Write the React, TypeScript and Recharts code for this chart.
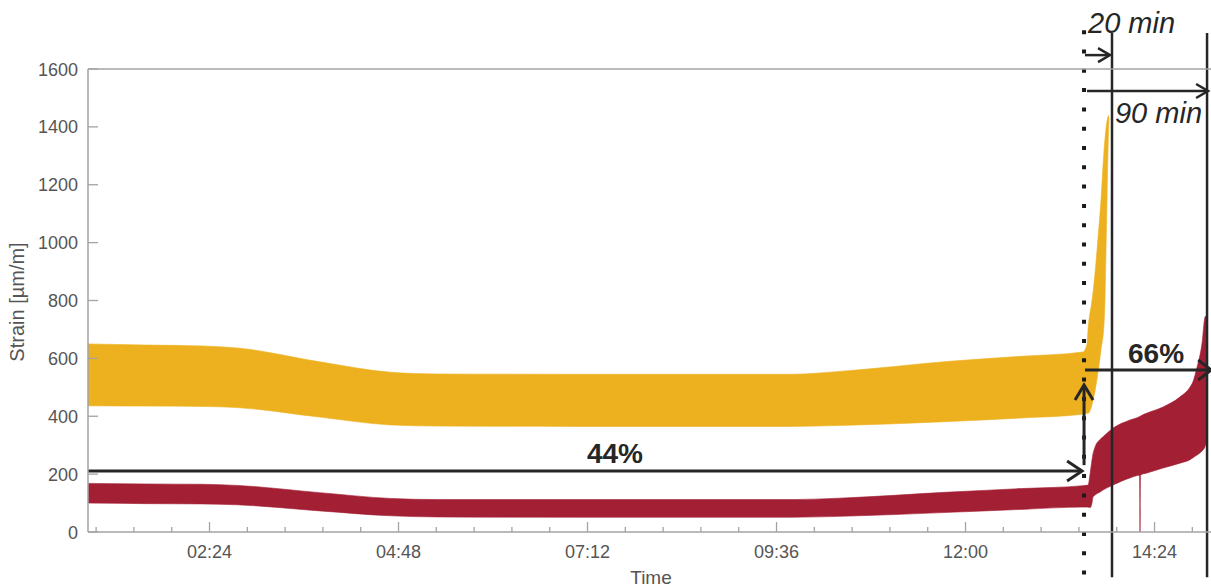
import React from 'react';
import {
  ComposedChart,
  Area,
  XAxis,
  YAxis,
  ReferenceLine,
  ReferenceDot,
} from 'recharts';

// ---- data (time in hours, strain in µm/m) ----
// Upper gauge: envelope (min / max) of the oscillating strain signal
const YELLOW_T = [
  0.857, 1.6, 2.3, 2.75, 3.8, 4.7, 5.3, 7.0, 9.8, 10.4, 11.8, 12.7, 13.49,
  13.543, 13.556, 13.606, 13.632, 13.67, 13.72, 13.759, 13.771, 13.784, 13.797,
  13.81, 13.822,
];
const YELLOW_LOW = [
  436, 435, 434, 430, 397, 370, 366, 365, 365, 368, 382, 394, 407,
  410, 410, 440, 470, 530, 629, 720, 800, 975, 1147, 1320, 1430,
];
const YELLOW_HIGH = [
  650, 646, 643, 636, 588, 552, 546, 545, 545, 555, 590, 607, 622,
  650, 700, 800, 860, 975, 1147, 1320, 1360, 1395, 1420, 1435, 1440,
];

// Lower gauge envelope
const RED_T = [
  0.857, 1.6, 2.3, 2.75, 3.8, 4.7, 5.3, 7.0, 9.8, 10.4, 11.8, 12.7, 13.49,
  13.556, 13.581, 13.606, 13.619, 13.645, 13.708, 13.746, 13.873, 14.089,
  14.21, 14.216, 14.222, 14.305, 14.508, 14.724, 14.851, 14.889, 14.94,
  15.003, 15.041, 15.067,
];
const RED_LOW = [
  100, 98, 97, 94, 73, 56, 52, 51, 51, 54, 68, 78, 86,
  86, 84, 100, 121, 128, 138, 145, 162, 187,
  196, 0, 197, 204, 221, 238, 250, 257, 266,
  280, 295, 318,
];
const RED_HIGH = [
  168, 166, 165, 161, 136, 116, 112, 112, 112, 117, 138, 150, 160,
  162, 200, 249, 270, 294, 320, 329, 359, 387,
  399, 400, 401, 411, 432, 467, 501, 520, 570,
  652, 743, 750,
];

// ---- axes ----
const X_MIN = 0.857;
const X_MAX = 15.206;
const X_MAJOR_TICKS = [2.4, 4.8, 7.2, 9.6, 12.0, 14.4];
const X_TICK_LABELS = ['02:24', '04:48', '07:12', '09:36', '12:00', '14:24'];
const X_MINOR_STEP = 0.48;
const X_TICKS: number[] = [];
for (let k = 2; k * X_MINOR_STEP <= X_MAX; k++) X_TICKS.push(+(k * X_MINOR_STEP).toFixed(2));
const Y_TICKS = [0, 200, 400, 600, 800, 1000, 1200, 1400, 1600];

// ---- annotation anchors (hours, µm/m) ----
const T_LOAD_CHANGE = 13.505;
const T_20MIN = 13.86;
const T_90MIN = 15.067;
const LEVEL_44 = 210.8;
const LEVEL_66 = 559.8;

const FONT = "'Liberation Sans', Arial, Helvetica, sans-serif";
const INK = '#262626';
const AXIS_GRAY = '#a3a3a3';
const TICK_TEXT = '#555555';
const YELLOW = '#EDB120';
const RED = '#A31F34';

const yellowData = YELLOW_T.map((t, i) => ({ t, band: [YELLOW_LOW[i], YELLOW_HIGH[i]] }));
const redData = RED_T.map((t, i) => ({ t, band: [RED_LOW[i], RED_HIGH[i]] }));

const majorIndex = (v: number) =>
  X_MAJOR_TICKS.findIndex((m) => Math.abs(m - v) < 1e-3);

function BottomTick(props: any) {
  const { x, y, payload } = props;
  const idx = majorIndex(payload.value);
  const len = idx >= 0 ? 10 : 5;
  return (
    <g>
      <line x1={x} y1={y} x2={x} y2={y - len} stroke={AXIS_GRAY} strokeWidth={1.3} />
      {idx >= 0 && (
        <text x={x} y={y + 26} textAnchor="middle" fontSize={18} fontFamily={FONT} fill={TICK_TEXT}>
          {X_TICK_LABELS[idx]}
        </text>
      )}
    </g>
  );
}

function TopTick(props: any) {
  const { x, y, payload } = props;
  const len = majorIndex(payload.value) >= 0 ? 10 : 5;
  return <line x1={x} y1={y} x2={x} y2={y + len} stroke={AXIS_GRAY} strokeWidth={1.3} />;
}

function LeftTick(props: any) {
  const { x, y, payload } = props;
  return (
    <g>
      <line x1={x} y1={y} x2={x + 10} y2={y} stroke={AXIS_GRAY} strokeWidth={1.3} />
      <text x={x - 10} y={y + 6.5} textAnchor="end" fontSize={18} fontFamily={FONT} fill={TICK_TEXT}>
        {payload.value}
      </text>
    </g>
  );
}

// line with an open chevron head at its end point
const arrowShape = (back: number, half: number, width: number) => (p: any) => {
  const { x1, y1, x2, y2 } = p;
  const dx = x2 - x1;
  const dy = y2 - y1;
  const L = Math.hypot(dx, dy) || 1;
  const ux = dx / L;
  const uy = dy / L;
  const px = -uy;
  const py = ux;
  const a = `${x2 - ux * back + px * half},${y2 - uy * back + py * half}`;
  const b = `${x2 - ux * back - px * half},${y2 - uy * back - py * half}`;
  return (
    <g>
      <line x1={x1} y1={y1} x2={x2 - ux * 1} y2={y2 - uy * 1} stroke={INK} strokeWidth={width} />
      <polyline points={`${a} ${x2},${y2} ${b}`} fill="none" stroke={INK} strokeWidth={width} strokeLinejoin="miter" />
    </g>
  );
};

const textShape = (text: string, size: number, opts: { bold?: boolean; italic?: boolean; anchor?: string }) =>
  (p: any) => (
    <text
      x={p.cx}
      y={p.cy}
      fontSize={size}
      fontFamily={FONT}
      fontWeight={opts.bold ? 'bold' : 'normal'}
      fontStyle={opts.italic ? 'italic' : 'normal'}
      textAnchor={opts.anchor || 'middle'}
      fill={INK}
    >
      {text}
    </text>
  );

const renderYLabel = () => (
  <text
    transform="translate(24,302) rotate(-90)"
    textAnchor="middle"
    fontSize={20}
    fontFamily={FONT}
    fill={TICK_TEXT}
  >
    Strain [µm/m]
  </text>
);

const renderXLabel = () => (
  <text x={651} y={584} textAnchor="middle" fontSize={19} fontFamily={FONT} fill={TICK_TEXT}>
    Time
  </text>
);

export default function App() {
  return (
    <div
      style={{
        position: 'absolute',
        left: 0,
        top: 0,
        width: 1211,
        height: 588,
        overflow: 'hidden',
        background: '#ffffff',
      }}
    >
      <ComposedChart width={1230} height={588} margin={{ top: 39, right: 12, bottom: 0, left: 0 }}>
        <XAxis
          xAxisId={0}
          type="number"
          dataKey="t"
          domain={[X_MIN, X_MAX]}
          allowDataOverflow
          ticks={X_TICKS}
          interval={0}
          tickSize={0}
          tickMargin={0}
          tickLine={false}
          tick={<BottomTick />}
          axisLine={{ stroke: AXIS_GRAY, strokeWidth: 1.5 }}
          height={56}
          label={{ value: 'Time', content: renderXLabel }}
        />
        <XAxis
          xAxisId="top"
          orientation="top"
          type="number"
          domain={[X_MIN, X_MAX]}
          allowDataOverflow
          ticks={X_TICKS}
          interval={0}
          tickSize={0}
          tickMargin={0}
          tickLine={false}
          tick={<TopTick />}
          axisLine={{ stroke: AXIS_GRAY, strokeWidth: 1.5 }}
          height={30}
        />
        <YAxis
          type="number"
          domain={[0, 1600]}
          allowDataOverflow
          ticks={Y_TICKS}
          interval={0}
          tickSize={0}
          tickMargin={0}
          tickLine={false}
          tick={<LeftTick />}
          axisLine={{ stroke: AXIS_GRAY, strokeWidth: 1.5 }}
          width={88}
          label={{ value: 'Strain [µm/m]', content: renderYLabel }}
        />

        <Area
          data={yellowData}
          dataKey="band"
          type="monotone"
          fill={YELLOW}
          fillOpacity={1}
          stroke={YELLOW}
          strokeWidth={0.6}
          dot={false}
          activeDot={false}
          isAnimationActive={false}
        />
        <Area
          data={redData}
          dataKey="band"
          type="monotone"
          fill={RED}
          fillOpacity={1}
          stroke={RED}
          strokeWidth={0.6}
          dot={false}
          activeDot={false}
          isAnimationActive={false}
        />

        {/* load change marker */}
        <ReferenceLine
          segment={[{ x: T_LOAD_CHANGE, y: 1734 }, { x: T_LOAD_CHANGE, y: -194 }]}
          stroke="#1a1a1a"
          strokeWidth={4}
          strokeDasharray="4 15.3"
          ifOverflow="visible"
        />
        {/* 20 min and 90 min boundaries */}
        <ReferenceLine
          segment={[{ x: T_20MIN, y: 1724 }, { x: T_20MIN, y: -156 }]}
          stroke={INK}
          strokeWidth={2.5}
          ifOverflow="visible"
        />
        <ReferenceLine
          segment={[{ x: T_90MIN, y: 1724 }, { x: T_90MIN, y: -156 }]}
          stroke={INK}
          strokeWidth={2.5}
          ifOverflow="visible"
        />
        <ReferenceLine
          segment={[{ x: 13.517, y: 1648 }, { x: 13.835, y: 1648 }]}
          ifOverflow="visible"
          shape={arrowShape(12, 7, 2.5)}
        />
        <ReferenceLine
          segment={[{ x: 13.543, y: 1524 }, { x: 15.08, y: 1524 }]}
          ifOverflow="visible"
          shape={arrowShape(12, 7, 2.5)}
        />

        {/* 44 % level */}
        <ReferenceLine
          segment={[{ x: X_MIN, y: LEVEL_44 }, { x: 13.48, y: LEVEL_44 }]}
          ifOverflow="visible"
          shape={arrowShape(15, 10, 3)}
        />
        <ReferenceLine
          segment={[{ x: T_LOAD_CHANGE, y: 231 }, { x: T_LOAD_CHANGE, y: 508 }]}
          ifOverflow="visible"
          shape={arrowShape(15, 9, 3)}
        />
        {/* 66 % level */}
        <ReferenceLine
          segment={[{ x: 13.517, y: LEVEL_66 }, { x: 15.12, y: LEVEL_66 }]}
          ifOverflow="visible"
          shape={arrowShape(13, 10, 3)}
        />

        <ReferenceDot x={7.549} y={238.4} r={0} ifOverflow="visible" shape={textShape('44%', 28, { bold: true })} />
        <ReferenceDot x={14.419} y={584} r={0} ifOverflow="visible" shape={textShape('66%', 28, { bold: true })} />
        <ReferenceDot x={13.556} y={1724.4} r={0} ifOverflow="visible" shape={textShape('20 min', 29, { italic: true, anchor: 'start' })} />
        <ReferenceDot x={13.898} y={1413.4} r={0} ifOverflow="visible" shape={textShape('90 min', 29, { italic: true, anchor: 'start' })} />
      </ComposedChart>
    </div>
  );
}
